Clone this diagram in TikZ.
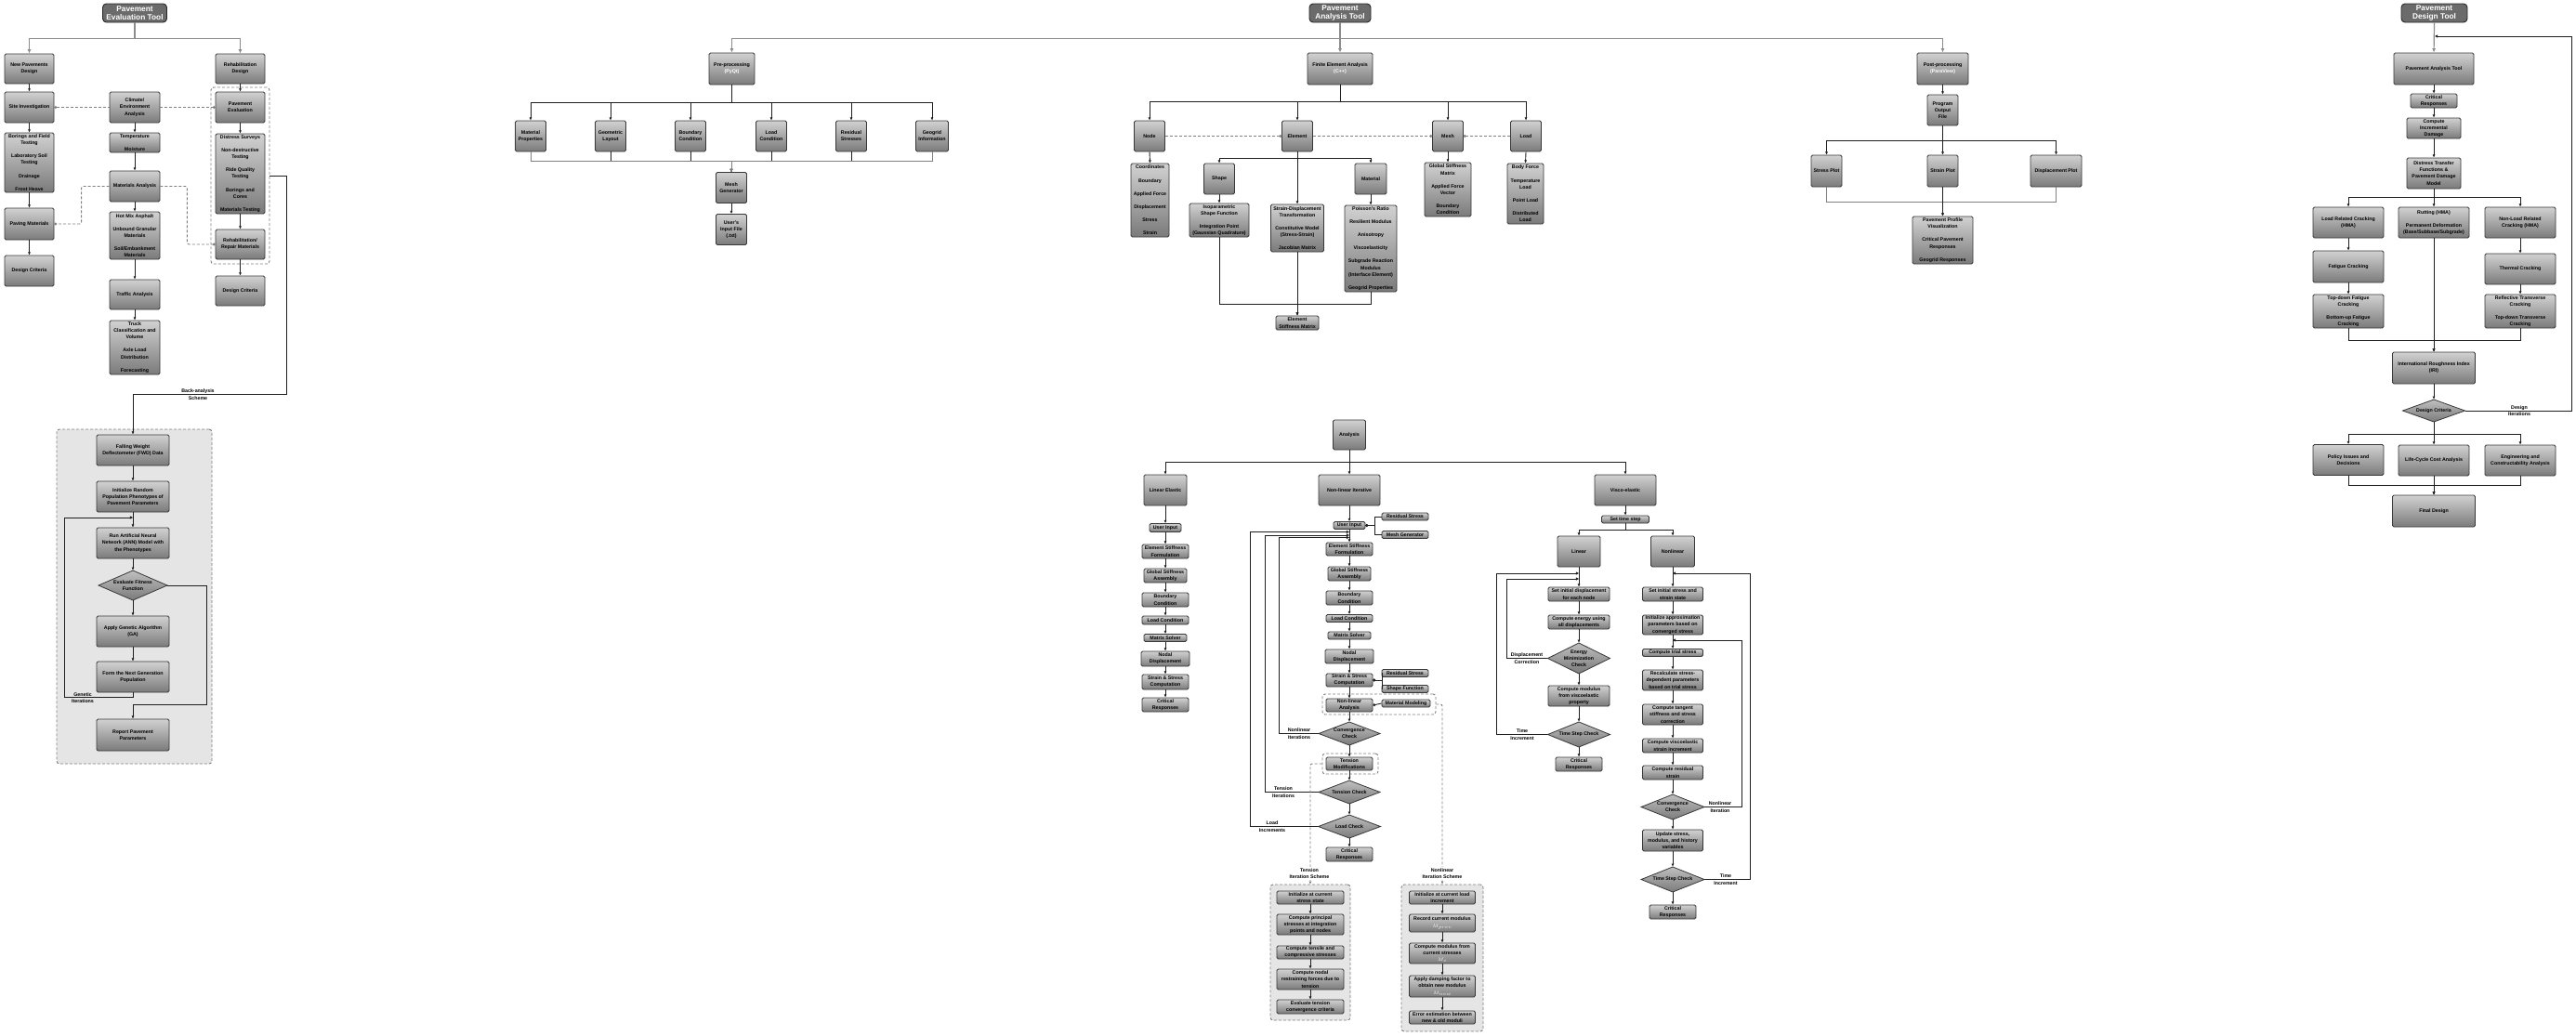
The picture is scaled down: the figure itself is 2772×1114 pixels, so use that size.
\documentclass[tikz,border=0pt]{standalone}
\usepackage{fontspec}
\setmainfont{Liberation Sans}
\usetikzlibrary{arrows.meta}
\newcommand\pp{\\[7pt]}
\newcommand\wt[1]{\textcolor{white}{#1}}
\newcommand\dia[6]{%
  \path[dshape] ({#2-#4/2},#3) -- (#2,{#3-#5/2}) -- ({#2+#4/2},#3) -- (#2,{#3+#5/2}) -- cycle;
  \node[dtxt,minimum width=#4,minimum height=#5] (#1) at (#2,#3) {#6};}
\tikzset{
  txt/.style={align=center, inner sep=0pt, font=\bfseries\fontsize{5.3}{7.2}\selectfont},
  box/.style={txt, draw=black!78, line width=0.8pt, rounded corners=1.5pt, top color=black!18, bottom color=black!52},
  bx/.style n args={2}{box, minimum width=#1, minimum height=#2},
  ttl/.style={draw=black!85, line width=0.9pt, rounded corners=4pt, fill=black!58, text=white, align=center, inner sep=0pt, minimum height=20, font=\bfseries\fontsize{8.3}{9.6}\selectfont},
  dtxt/.style={txt},
  dshape/.style={draw=black!78, line width=0.8pt, top color=black!25, bottom color=black!52},
  cn/.style={draw=black!88, line width=0.9pt, -{Latex[length=3.2pt,width=3pt]}},
  ln/.style={draw=black!88, line width=0.9pt},
  gln/.style={draw=black!50, line width=0.9pt, -{Latex[length=3.2pt,width=3pt]}},
  gcn/.style={draw=black!45, line width=1.2pt, -{Latex[length=4.5pt,width=4pt]}},
  lp/.style={draw=black!88, line width=0.9pt, -{Triangle[open,length=3.2pt,width=3.2pt]}},
  dl/.style={draw=black!50, line width=0.9pt, dash pattern=on 3pt off 2pt, rounded corners=2pt},
  oc/.style={{Circle[open,length=2.8pt,width=2.8pt]}-},
  co/.style={-{Circle[open,length=2.8pt,width=2.8pt]}},
  grp/.style={draw=black!50, line width=0.9pt, dash pattern=on 3pt off 2pt, rounded corners=3pt, inner sep=0pt},
  grpf/.style={grp, fill=black!10},
  lbl/.style={txt},
}
\begin{document}
\begin{tikzpicture}[x=1pt,y=-1pt]
\useasboundingbox[fill=white] (0,0) rectangle (2772,1114);

%%%%%%%%%%%%%%%% Pavement Evaluation Tool
\node[ttl, minimum width=69] (t1) at (145,14) {Pavement\\Evaluation Tool};
\node[grp, minimum width=63, minimum height=190] (g1) at (258.5,189) {};
\node[bx={53}{32}] (npd) at (31.5,74) {New Pavements\\Design};
\node[bx={53}{32}] (rhd) at (258.5,74) {Rehabilitation\\Design};
\node[bx={53}{33}] (site) at (31.5,115.5) {Site Investigation};
\node[bx={54}{33}] (clim) at (145,115.5) {Climate/\\Environment\\Analysis};
\node[bx={53}{33}] (pev) at (258.5,115.5) {Pavement\\Evaluation};
\node[bx={53}{64}] (bor) at (31.5,175) {Borings and Field\\Testing\pp Laboratory Soil\\Testing\pp Drainage\pp Frost Heave};
\node[bx={54}{21}] (temp) at (145,153.5) {Temperature\pp Moisture};
\node[bx={53}{86}] (dis) at (258.5,187) {Distress Surveys\pp Non-destructive\\Testing\pp Ride Quality\\Testing\pp Borings and\\Cores\pp Materials Testing};
\node[bx={54}{33}] (mat) at (145,200.5) {Materials Analysis};
\node[bx={53}{34}] (pav) at (31.5,241) {Paving Materials};
\node[bx={54}{51}] (hma) at (145,253.5) {Hot Mix Asphalt\pp Unbound Granular\\Materials\pp Soil/Embankment\\Materials};
\node[bx={53}{32}] (rrm) at (258.5,263) {Rehabilitation/\\Repair Materials};
\node[bx={53}{33}] (dc1) at (31.5,291.5) {Design Criteria};
\node[bx={53}{32}] (dc2) at (258.5,313) {Design Criteria};
\node[bx={54}{32}] (tra) at (145,317) {Traffic Analysis};
\node[bx={54}{58}] (trk) at (145,374) {Truck\\Classification and\\Volume\pp Axle Load\\Distribution\pp Forecasting};

\draw[gcn] (t1.south) -- ++(0,17) -| (npd.north);
\draw[gcn] (t1.south) -- ++(0,17) -| (rhd.north);
\foreach \a/\b in {npd/site,site/bor,bor/pav,pav/dc1,clim/temp,temp/mat,mat/hma,hma/tra,tra/trk,rhd/pev,pev/dis,dis/rrm,rrm/dc2}
  \draw[cn] (\a.south) -- (\b.north);
\draw[dl,oc] (site.east) -- (clim.west);
\draw[dl,co] (clim.east) -- (pev.west);
\draw[dl,co] (mat.west) -- ++(-30,0) |- (pav.east);
\draw[dl,co] (mat.east) -- ++(29,0) |- (rrm.west);

% back-analysis panel
\node[grpf, minimum width=167, minimum height=360] (g2) at (144.5,642) {};
\node[bx={78}{33}] (fwd) at (143,484.5) {Falling Weight\\Deflectometer (FWD) Data};
\node[bx={78}{33}] (init) at (143,534.5) {Initialize Random\\Population Phenotypes of\\Pavement Parameters};
\node[bx={78}{33}] (ann) at (143,584.5) {Run Artificial Neural\\Network (ANN) Model with\\the Phenotypes};
\dia{fit}{143}{630}{74}{32}{Evaluate Fitness\\Function}
\node[bx={78}{33}] (ga) at (143,679.5) {Apply Genetic Algorithm\\(GA)};
\node[bx={78}{33}] (ngen) at (143,728.5) {Form the Next Generation\\Population};
\node[bx={78}{34}] (rep) at (143,791) {Report Pavement\\Parameters};
\coordinate (gj) at (143,557);
\foreach \a/\b in {fwd/init,init/ann,ann/fit,fit/ga,ga/ngen}
  \draw[cn] (\a.south) -- (\b.north);
\draw[lp] (ngen.south) -- ++(0,5) -- ++(-74,0) |- (gj);
\node[lbl] (lgen) at (89,751) {Genetic\\Iterations};
\draw[cn] (fit.east) -- ++(42,0) -- ++(0,128) -| (rep.north);
\draw[cn] (g1.east) -- ++(18,0) -- ++(0,235) -| (fwd.north);
\node[lbl] (lbas) at (213,424.5) {Back-analysis\\Scheme};

%%%%%%%%%%%%%%%% Pavement Analysis Tool
\node[ttl, minimum width=66] (t2) at (1442,14) {Pavement\\Analysis Tool};
\node[bx={49}{34}] (pre) at (787.5,74) {Pre-processing\\\wt{(PyQt)}};
\node[bx={70}{34}] (fea) at (1442,74) {Finite Element Analysis\\\wt{(C++)}};
\node[bx={55}{34}] (post) at (2090.5,74) {Post-processing\\\wt{(ParaView)}};
\draw[gcn] (t2.south) -- ++(0,17) -| (pre.north);
\draw[gcn] (t2.south) -- (fea.north);
\draw[gcn] (t2.south) -- ++(0,17) -| (post.north);

% pre-processing
\node[bx={33}{33}] (mp) at (571,146.5) {Material\\Properties};
\node[bx={33}{33}] (gl) at (657,146.5) {Geometric\\Layout};
\node[bx={33}{33}] (bc) at (743,146.5) {Boundary\\Condition};
\node[bx={33}{33}] (lc) at (830,146.5) {Load\\Condition};
\node[bx={33}{33}] (rs) at (916,146.5) {Residual\\Stresses};
\node[bx={35}{33}] (gg) at (1003,146.5) {Geogrid\\Information};
\node[bx={33}{33}] (mesh) at (787,202) {Mesh\\Generator};
\node[bx={33}{33}] (uif) at (787,247) {User's\\Input File\\(.txt)};
\foreach \b in {mp,gl,bc,lc,rs,gg}
  \draw[cn] (pre.south) -- ++(0,19) -| (\b.north);
\foreach \a in {gl,bc,lc,rs}
  \draw[cn] (\a.south) -- ++(0,10) -| (mesh.north);
\foreach \a in {mp,gg}
  \draw[gln] (\a.south) -- ++(0,10) -| (mesh.north);
\draw[cn] (mesh.south) -- (uif.north);

% finite element analysis
\node[bx={33}{33}] (nd) at (1237,146.5) {Node};
\node[bx={33}{33}] (elem) at (1396,146.5) {Element};
\node[bx={33}{33}] (meshb) at (1558,146.5) {Mesh};
\node[bx={33}{33}] (load) at (1642,146.5) {Load};
\foreach \b in {nd,elem,meshb,load}
  \draw[cn] (fea.south) -- ++(0,18) -| (\b.north);
\draw[dl,co] (nd.east) -- (elem.west);
\draw[dl,co] (elem.east) -- (meshb.west);
\draw[dl,oc] (meshb.east) -- (load.west);
\node[bx={41}{79}] (ndl) at (1237.5,215.5) {Coordinates\pp Boundary\pp Applied Force\pp Displacement\pp Stress\pp Strain};
\node[bx={33}{33}] (shape) at (1312,192.5) {Shape};
\node[bx={34}{33}] (matl) at (1475,192.5) {Material};
\draw[cn] (elem.south) -- ++(0,7) -| (shape.north);
\draw[cn] (elem.south) -- ++(0,7) -| (matl.north);
\node[bx={64}{36}] (iso) at (1312,237) {Isoparametric\\Shape Function\pp Integration Point\\(Gaussian Quadrature)};
\node[bx={57}{51}] (sdt) at (1396,245.5) {Strain-Displacement\\Transformation\pp Constitutive Model\\(Stress-Strain)\pp Jacobian Matrix};
\node[bx={56}{93}] (mlist) at (1475,267.5) {Poisson's Ratio\pp Resilient Modulus\pp Anisotropy\pp Viscoelasticity\pp Subgrade Reaction\\Modulus\\(Interface Element)\pp Geogrid Properties};
\draw[cn] (elem.south) -- (sdt.north);
\draw[cn] (shape.south) -- (iso.north);
\draw[cn] (matl.south) -- (mlist.north);
\node[bx={46}{15}] (esm) at (1396,347.5) {Element\\Stiffness Matrix};
\draw[cn] (iso.south) -- ++(0,72) -| (esm.north);
\draw[cn] (mlist.south) -- ++(0,13) -| (esm.north);
\draw[cn] (sdt.south) -- (esm.north);
\node[bx={50}{58}] (gsm) at (1558,204) {Global Stiffness\\Matrix\pp Applied Force\\Vector\pp Boundary\\Condition};
\node[bx={39}{65}] (lls) at (1641.5,208.5) {Body Force\pp Temperature\\Load\pp Point Load\pp Distributed\\Load};
\draw[cn] (nd.south) -- (ndl.north);
\draw[cn] (meshb.south) -- (gsm.north);
\draw[cn] (load.south) -- (lls.north);

% post-processing
\node[bx={33}{33}] (pof) at (2090.5,118.5) {Program\\Output\\File};
\draw[cn] (post.south) -- (pof.north);
\node[bx={33}{34}] (sp) at (1965.5,184) {Stress Plot};
\node[bx={33}{34}] (stp) at (2090.5,184) {Strain Plot};
\node[bx={55}{34}] (dp) at (2212.5,184) {Displacement Plot};
\foreach \b in {sp,stp,dp}
  \draw[cn] (pof.south) -- ++(0,16) -| (\b.north);
\node[bx={65}{51}] (fin) at (2090.5,258.5) {Pavement Profile\\Visualization\pp Critical Pavement\\Responses\pp Geogrid Responses};
\draw[gln] (sp.south) -- ++(0,16) -| (fin.north);
\draw[gln] (dp.south) -- ++(0,16) -| (fin.north);
\draw[cn] (stp.south) -- (fin.north);

%%%%%%%%%%%%%%%% Pavement Design Tool
\node[ttl, minimum width=71] (t3) at (2619.5,14) {Pavement\\Design Tool};
\node[bx={86}{34}] (pat) at (2619,74) {Pavement Analysis Tool};
\draw[gcn] (t3.south) -- (pat.north);
\node[bx={50}{15}] (dcr1) at (2619,108.5) {Critical\\Responses};
\node[bx={58}{22}] (cid) at (2619,138) {Compute\\Incremental\\Damage};
\node[bx={58}{33}] (dtf) at (2619,186.5) {Distress Transfer\\Functions \&\\Pavement Damage\\Model};
\foreach \a/\b in {pat/dcr1,dcr1/cid,cid/dtf}
  \draw[cn] (\a.south) -- (\b.north);
\node[bx={76}{33}] (lrc) at (2527,239.5) {Load Related Cracking\\(HMA)};
\node[bx={76}{33}] (rut) at (2619,239.5) {Rutting (HMA)\pp Permanent Deformation\\(Base/Subbase/Subgrade)};
\node[bx={76}{33}] (nlr) at (2712,239.5) {Non-Load Related\\Cracking (HMA)};
\foreach \b in {lrc,rut,nlr}
  \draw[cn] (dtf.south) -- ++(0,9) -| (\b.north);
\node[bx={76}{34}] (fc) at (2527,287) {Fatigue Cracking};
\node[bx={76}{33}] (tc) at (2712,289.5) {Thermal Cracking};
\node[bx={76}{36}] (tdf) at (2527,335) {Top-down Fatigue\\Cracking\pp Bottom-up Fatigue\\Cracking};
\node[bx={76}{36}] (rtc) at (2712,335) {Reflective Transverse\\Cracking\pp Top-down Transverse\\Cracking};
\foreach \a/\b in {lrc/fc,fc/tdf,nlr/tc,tc/rtc}
  \draw[cn] (\a.south) -- (\b.north);
\node[bx={89}{34}] (iri) at (2619,396) {International Roughness Index\\(IRI)};
\draw[cn] (rut.south) -- (iri.north);
\draw[cn] (tdf.south) -- ++(0,13) -| (iri.north);
\draw[cn] (rtc.south) -- ++(0,13) -| (iri.north);
\dia{dcr}{2619}{442}{67}{24}{Design Criteria}
\draw[cn] (iri.south) -- (dcr.north);
\coordinate (dj) at (2620,39);
\draw[lp] (dcr.east) -- ++(115,0) |- (dj);
\node[lbl] (ldi) at (2711,442) {Design\\Iterations};
\node[bx={76}{33}] (pid) at (2527,495) {Policy Issues and\\Decisions};
\node[bx={76}{33}] (lcc) at (2619,495.5) {Life-Cycle Cost Analysis};
\node[bx={76}{33}] (eca) at (2712,495.5) {Engineering and\\Constructability Analysis};
\foreach \b in {pid,lcc,eca}
  \draw[cn] (dcr.south) -- ++(0,13) -| (\b.north);
\node[bx={89}{34}] (fd) at (2619,550) {Final Design};
\draw[cn] (pid.south) -- ++(0,10.5) -| (fd.north);
\draw[cn] (eca.south) -- ++(0,10) -| (fd.north);
\draw[cn] (lcc.south) -- (fd.north);

%%%%%%%%%%%%%%%% Analysis
\node[bx={35}{32}] (an) at (1452,468) {Analysis};
\node[bx={46}{33}] (le) at (1254,527.5) {Linear Elastic};
\node[bx={66}{33}] (nli) at (1452,527.5) {Non-linear Iterative};
\node[bx={66}{33}] (ve) at (1749,527.5) {Visco-elastic};
\draw[cn] (an.south) -- ++(0,13) -| (le.north);
\draw[cn] (an.south) -- (nli.north);
\draw[cn] (an.south) -- ++(0,13) -| (ve.north);

% linear elastic
\node[bx={34}{9}] (le1) at (1254,568) {User Input};
\node[bx={50}{15}] (le2) at (1254,593.5) {Element Stiffness\\Formulation};
\node[bx={46}{15}] (le3) at (1254,619.5) {Global Stiffness\\Assembly};
\node[bx={50}{15}] (le4) at (1254,645.5) {Boundary\\Condition};
\node[bx={50}{9}] (le5) at (1254,667.5) {Load Condition};
\node[bx={46}{8}] (le6) at (1254,686.5) {Matrix Solver};
\node[bx={52}{16}] (le7) at (1254,709) {Nodal\\Displacement};
\node[bx={50}{16}] (le8) at (1254,734) {Strain \& Stress\\Computation};
\node[bx={50}{15}] (le9) at (1254,758.5) {Critical\\Responses};
\foreach \a/\b in {le/le1,le1/le2,le2/le3,le3/le4,le4/le5,le5/le6,le6/le7,le7/le8,le8/le9}
  \draw[cn] (\a.south) -- (\b.north);

% non-linear iterative
\node[grp, minimum width=122, minimum height=22] (g3) at (1484,758) {};
\node[grp, minimum width=60, minimum height=22] (g4) at (1453,822) {};
\node[bx={34}{8}] (n1) at (1452,565.5) {User Input};
\node[bx={50}{8}] (rs1) at (1512,556) {Residual Stress};
\node[bx={50}{8}] (mg) at (1512,575.5) {Mesh Generator};
\node[bx={50}{14}] (n2) at (1452,591) {Element Stiffness\\Formulation};
\node[bx={46}{15}] (n3) at (1452,617.5) {Global Stiffness\\Assembly};
\node[bx={50}{15}] (n4) at (1452,643.5) {Boundary\\Condition};
\node[bx={50}{8}] (n5) at (1452,665.5) {Load Condition};
\node[bx={46}{8}] (n6) at (1452,684) {Matrix Solver};
\node[bx={52}{15}] (n7) at (1452,706.5) {Nodal\\Displacement};
\node[bx={50}{14}] (n8) at (1452,732) {Strain \& Stress\\Computation};
\node[bx={50}{8}] (rs2) at (1512,724.5) {Residual Stress};
\node[bx={50}{8}] (sf) at (1512,741.5) {Shape Function};
\node[bx={50}{14}] (n9) at (1452,759) {Non-linear\\Analysis};
\node[bx={52}{8}] (mm) at (1513,757) {Material Modeling};
\dia{cc}{1452}{789.5}{66}{25}{Convergence\\Check}
\node[bx={50}{14}] (tm) at (1452,822) {Tension\\Modifications};
\dia{tch}{1452}{852.5}{66}{25}{Tension Check}
\dia{lch}{1452}{889.5}{67}{25}{Load Check}
\node[bx={50}{15}] (ncr) at (1452,919.5) {Critical\\Responses};
\foreach \a/\b in {nli/n1,n1/n2,n2/n3,n3/n4,n4/n5,n5/n6,n6/n7,n7/n8,n8/n9,n9/cc,cc/tm,tm/tch,tch/lch,lch/ncr}
  \draw[cn] (\a.south) -- (\b.north);
\draw[ln,oc] (n1.east) -- ++(10,0) |- (rs1.west);
\draw[ln,oc] (n1.east) -- ++(10,0) |- (mg.west);
\draw[ln,oc] (n8.east) -- ++(10,0) |- (rs2.west);
\draw[ln,oc] (n8.east) -- ++(10,0) |- (sf.west);
\draw[ln,oc] (n9.east) -- (mm.west);
\coordinate (j1) at (1452,578.5);
\coordinate (j2) at (1452,576);
\coordinate (j3) at (1452,572.5);
\draw[lp] (cc.west) -- ++(-42,0) |- (j1);
\draw[lp] (tch.west) -- ++(-57,0) |- (j2);
\draw[lp] (lch.west) -- ++(-73,0) |- (j3);
\node[lbl] (lnli) at (1398,789.5) {Nonlinear\\Iterations};
\node[lbl] (ltni) at (1381,852.5) {Tension\\Iterations};
\node[lbl] (llin) at (1369,889.5) {Load\\Increments};

% iteration schemes
\node[grpf, minimum width=86, minimum height=146] (g5) at (1410,1025) {};
\node[grpf, minimum width=88, minimum height=158] (g6) at (1552,1031) {};
\draw[dl,-{Latex[length=3pt,width=3pt]}] (g4.west) -| (g5.north);
\draw[dl,-{Latex[length=3pt,width=3pt]}] (g3.east) -| (g6.north);
\node[lbl, fill=white, inner sep=1pt] (lts) at (1409,940) {Tension\\Iteration Scheme};
\node[lbl, fill=white, inner sep=1pt] (lns) at (1552,940) {Nonlinear\\Iteration Scheme};
\node[bx={72}{14}] (ts1) at (1410,966) {Initialize at current\\stress state};
\node[bx={72}{22}] (ts2) at (1410,995) {Compute principal\\stresses at integration\\points and nodes};
\node[bx={72}{14}] (ts3) at (1410,1025) {Compute tensile and\\compressive stresses};
\node[bx={72}{22}] (ts4) at (1410,1054) {Compute nodal\\restraining forces due to\\tension};
\node[bx={72}{15}] (ts5) at (1410,1083.5) {Evaluate tension\\convergence criteria};
\foreach \a/\b in {ts1/ts2,ts2/ts3,ts3/ts4,ts4/ts5}
  \draw[cn] (\a.south) -- (\b.north);
\node[bx={71}{14}] (ns1) at (1552,966) {Initialize at current load\\increment};
\node[bx={71}{19}] (ns2) at (1552,993.5) {Record current modulus\\\wt{$M_{prev}$}};
\node[bx={71}{22}] (ns3) at (1552,1026) {Compute modulus from\\current stresses\\\wt{$M_{c}$}};
\node[bx={71}{23}] (ns4) at (1552,1061.5) {Apply damping factor to\\obtain new modulus\\\wt{$M_{new}$}};
\node[bx={71}{14}] (ns5) at (1552,1095) {Error estimation between\\new \& old moduli};
\foreach \a/\b in {ns1/ns2,ns2/ns3,ns3/ns4,ns4/ns5}
  \draw[cn] (\a.south) -- (\b.north);

% visco-elastic
\node[bx={51}{8}] (tstep) at (1749,559) {Set time step};
\draw[cn] (ve.south) -- (tstep.north);
\node[bx={46}{33}] (vl) at (1699,593.5) {Linear};
\node[bx={47}{33}] (vn) at (1800,593.5) {Nonlinear};
\draw[cn] (tstep.south) -- ++(0,7) -| (vl.north);
\draw[cn] (tstep.south) -- ++(0,7) -| (vn.north);
\node[bx={66}{15}] (v1) at (1699,639.5) {Set initial displacement\\for each node};
\node[bx={66}{15}] (v2) at (1699,669.5) {Compute energy using\\all displacements};
\dia{emc}{1699}{708.5}{67}{33}{Energy\\Minimization\\Check}
\node[bx={66}{22}] (v3) at (1699,749) {Compute modulus\\from viscoelastic\\property};
\dia{tsc}{1699}{790.5}{67}{27}{Time Step Check}
\node[bx={50}{15}] (v4) at (1699,822.5) {Critical\\Responses};
\foreach \a/\b in {vl/v1,v1/v2,v2/emc,emc/v3,v3/tsc,tsc/v4}
  \draw[cn] (\a.south) -- (\b.north);
\coordinate (vj1) at (1699,623);
\coordinate (vj2) at (1699,617);
\draw[lp] (emc.west) -- ++(-44,0) |- (vj1);
\draw[lp] (tsc.west) -- ++(-55,0) |- (vj2);
\node[lbl] (ldc) at (1643,708.5) {Displacement\\Correction};
\node[lbl] (lti1) at (1638,790.5) {Time\\Increment};

\node[bx={65}{15}] (w1) at (1800,639.5) {Set initial stress and\\strain state};
\node[bx={65}{21}] (w2) at (1800,672.5) {Initialize approximation\\parameters based on\\converged stress};
\node[bx={65}{8}] (w3) at (1800,702.5) {Compute trial stress};
\node[bx={65}{22}] (w4) at (1800,732) {Recalculate stress-\\dependent parameters\\based on trial stress};
\node[bx={65}{22}] (w5) at (1800,769) {Compute tangent\\stiffness and stress\\correction};
\node[bx={65}{15}] (w6) at (1800,802.5) {Compute viscoelastic\\strain increment};
\node[bx={65}{15}] (w7) at (1800,831.5) {Compute residual\\strain};
\dia{wcc}{1800}{868.5}{68}{27}{Convergence\\Check}
\node[bx={65}{23}] (w8) at (1800,904.5) {Update stress,\\modulus, and history\\variables};
\dia{wts}{1800}{946.5}{68}{27}{Time Step Check}
\node[bx={50}{15}] (w9) at (1800,981.5) {Critical\\Responses};
\foreach \a/\b in {vn/w1,w1/w2,w2/w3,w3/w4,w4/w5,w5/w6,w6/w7,w7/wcc,wcc/w8,w8/wts,wts/w9}
  \draw[cn] (\a.south) -- (\b.north);
\coordinate (wj1) at (1800,689);
\coordinate (wj2) at (1800,617);
\draw[lp] (wcc.east) -- ++(40,0) |- (wj1);
\draw[lp] (wts.east) -- ++(49,0) |- (wj2);
\node[lbl] (lnit) at (1851,868.5) {Nonlinear\\Iteration};
\node[lbl] (lti2) at (1857,946.5) {Time\\Increment};
\end{tikzpicture}
\end{document}
